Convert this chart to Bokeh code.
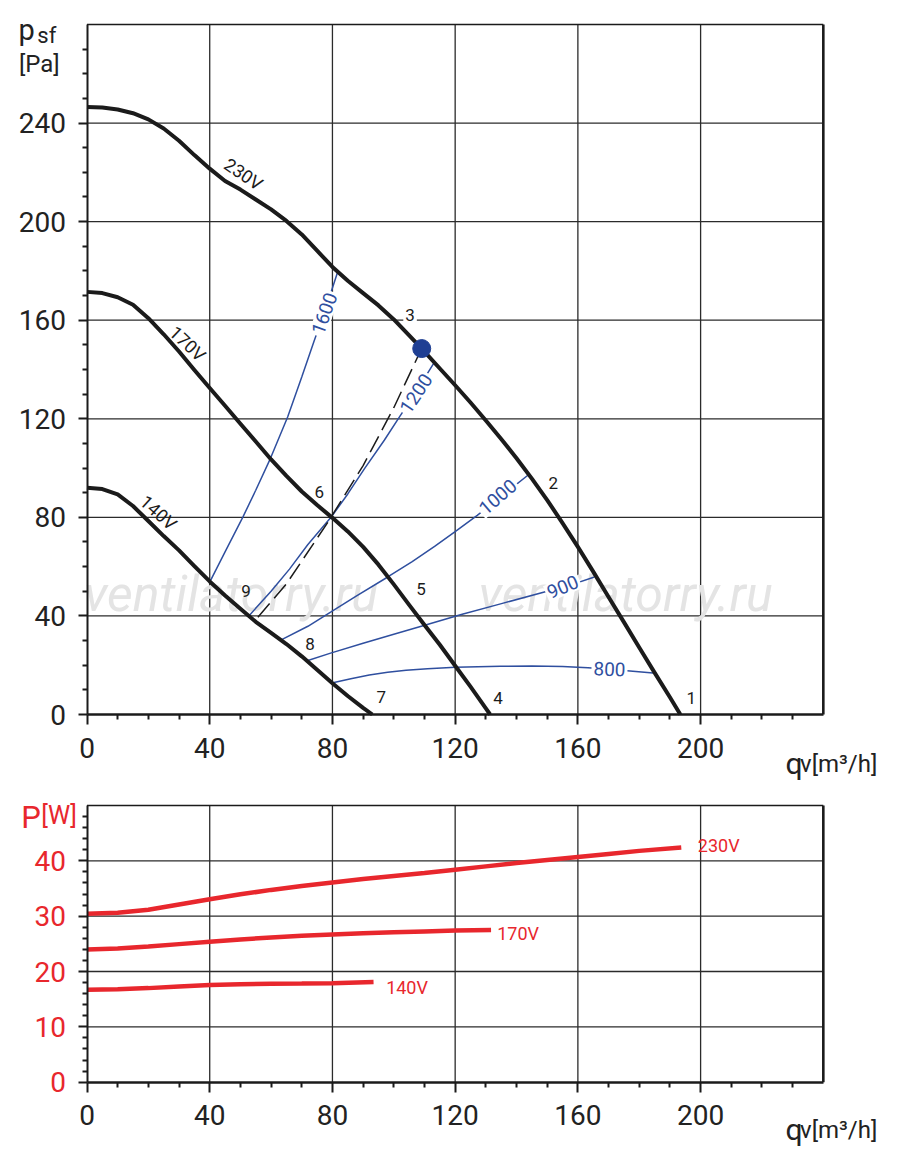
from bokeh.plotting import figure
from bokeh.models import Range1d, FixedTicker
from bokeh.layouts import column
from bokeh.embed import file_html
from bokeh.resources import INLINE
from bokeh.core.properties import value
import math

# ---------------- data ----------------
# fan curves p_sf [Pa] vs q_v [m3/h]
q_230 = [0, 5, 10, 15, 20, 25, 30, 35, 40, 45, 50, 55, 60, 65, 70, 75, 80, 85, 90, 95, 100, 105, 109.1,
         115, 120, 125, 130, 135, 140, 145, 150, 155, 160, 165, 170, 175, 180, 185, 190, 193.4]
p_230 = [246.5, 246.3, 245.5, 244, 241.5, 237.8, 232.8, 227, 221.5, 216.5, 213, 209, 205, 200.3, 194.8, 188.2, 181.6,
         176, 171, 166, 160.3, 153.8, 148.5, 140.4, 133.6, 126.6, 119.3, 111.8, 104, 95.7, 87, 77.7, 68, 58, 47.7,
         37.5, 27.2, 17, 7, 0]
q_170 = [0, 5, 10, 15, 20, 25, 30, 35, 40, 45, 50, 55, 60, 65, 70, 75, 80, 85, 90, 95, 100, 105, 110, 115, 120,
         125, 130, 131.4]
p_170 = [171.5, 171, 169.3, 166.3, 160.8, 154.3, 147.3, 139.8, 132.5, 125.3, 118, 110.8, 103.5, 96.8, 90.5, 85, 79.8,
         74.3, 68, 60.8, 52.8, 44.5, 36.3, 28.3, 19.8, 11.3, 2.5, 0]
q_140 = [0, 5, 10, 15, 20, 25, 30, 35, 40, 45, 50, 55, 60, 65, 70, 75, 80, 85, 90, 93]
p_140 = [92, 91.5, 89.3, 84.6, 78.5, 72.4, 66.6, 60.2, 54, 48.3, 42.9, 37.6, 33.1, 28.6, 23.6, 18.2, 12.7, 7.5, 2.7, 0]

# constant-speed lines (rpm)
q_1600 = [40, 45, 50.8, 55, 59.5, 65.4, 70, 74, 78, 81.7]
p_1600 = [53.7, 66, 80.1, 91, 103.1, 120.7, 137, 151.5, 165.5, 179.6]
q_1200 = [52.9, 60, 66, 72, 79.6, 85, 90.4, 96.9, 101.8, 107.3, 113.3]
p_1200 = [40.2, 50, 59, 69, 80.1, 89.5, 99.7, 111.3, 120.7, 131, 143.1]
q_1000 = [63.3, 72, 79.4, 88, 97.9, 106, 113.3, 120, 127.2, 134, 143.7]
p_1000 = [30.3, 35.8, 41.5, 48.2, 55.7, 62, 68.2, 74.2, 80.8, 87.5, 97.1]
q_900 = [72, 79.4, 90, 100, 109.8, 122, 134.8, 149.1, 158, 165.4]
p_900 = [21.9, 24.9, 28.9, 32.6, 36.1, 40.6, 44.9, 49.7, 52.7, 55.8]
q_800 = [79.4, 86, 92, 98, 104, 111, 120.1, 134.8, 145, 155, 163.3, 170, 177, 184.5]
p_800 = [12.7, 14.5, 16, 17.1, 18, 18.6, 19.2, 19.6, 19.7, 19.5, 19.0, 18.4, 17.7, 16.8]

# system curve (dashed) and operating point
q_sys = [55.7, 65, 78.5, 90, 100, 108.5]
p_sys = [39.5, 53, 78, 101, 124.5, 147]
q_op = [109.1]
p_op = [148.5]

# point numbers
pt_labels = ["1", "2", "3", "4", "5", "6", "7", "8", "9"]
pt_q = [197, 152, 105.3, 134, 108.9, 75.7, 95.9, 72.7, 51.8]
pt_p = [6.5, 93.8, 162, 6.5, 50.8, 90.2, 6.9, 28.8, 50]

# curve labels
volt_labels = ["230V", "170V", "140V"]
volt_q = [51.0, 32.8, 23.3]
volt_p = [219.3, 150.5, 81.9]
volt_ang = [-34, -43.5, -42]

rpm_labels = ["1600", "1200", "1000", "900", "800"]
rpm_q = [77.4, 107.3, 133.9, 155.1, 170.3]
rpm_p = [162.7, 130.2, 88.2, 51.7, 18.3]
rpm_ang = [70.3, 56.3, 40.8, 22.8, -2]

# power curves P [W] vs q_v
qP_230 = [0, 10, 20, 30, 40, 50, 60, 70, 80, 90, 100, 110, 120, 130, 140, 150, 160, 170, 180, 193.7]
P_230 = [30.45, 30.6, 31.15, 32.1, 33.05, 33.95, 34.75, 35.45, 36.1, 36.7, 37.25, 37.8, 38.4, 39.0, 39.6, 40.15,
         40.7, 41.25, 41.8, 42.4]
qP_170 = [0, 10, 20, 30, 40, 50, 60, 70, 80, 90, 100, 110, 120, 131.7]
P_170 = [24.0, 24.15, 24.5, 24.95, 25.4, 25.8, 26.15, 26.45, 26.7, 26.9, 27.1, 27.25, 27.4, 27.5]
qP_140 = [0, 10, 20, 30, 40, 50, 60, 70, 80, 93.4]
P_140 = [16.7, 16.8, 17.0, 17.3, 17.55, 17.7, 17.78, 17.82, 17.87, 18.1]
pw_labels = ["230V", "170V", "140V"]
pw_q = [199.1, 133.7, 97.5]
pw_P = [42.8, 26.9, 17.2]

# axes
Q_MAX = 240
P1_MAX = 280
P2_MAX = 50
x_ticks = [0, 40, 80, 120, 160, 200]
x_minor = [10, 20, 30, 50, 60, 70, 90, 100, 110, 130, 140, 150, 170, 180, 190, 210, 220, 230]
x_grid = [40, 80, 120, 160, 200]
y1_ticks = [0, 40, 80, 120, 160, 200, 240]
y1_minor = [v for v in range(10, 280, 10) if v % 40 != 0]
y1_grid = [40, 80, 120, 160, 200, 240]
y2_ticks = [0, 10, 20, 30, 40]
y2_minor = [v for v in range(2, 50, 2) if v % 10 != 0]
y2_grid = [10, 20, 30, 40]

# ---------------- layout constants (pixels) ----------------
W = 892
H1, H2 = 780, 370
X0, XS = 86.5, 3.068          # px of q=0, px per m3/h
Y0_1, YS_1 = 714.0, 2.4643    # top chart: px of p=0 (from canvas top), px per Pa
Y0_2, YS_2 = 301.7, 5.534     # bottom chart: px of P=0, px per W

FONT = "Roboto"
BLACK = "#1b1b1b"
BLUE = "#2f4f9f"
RED = "#e8272d"
GRID = "#2b2b2b"
AXTXT = "#222222"


def make_fig(h, y0, ys):
    p = figure(width=W, height=h,
               x_range=Range1d(-X0 / XS, (W - X0) / XS),
               y_range=Range1d(-(h - y0) / ys, y0 / ys),
               min_border=0, min_border_left=0, min_border_right=0, min_border_top=0, min_border_bottom=0,
               output_backend="svg", toolbar_location=None)
    p.background_fill_color = "white"
    p.border_fill_color = "white"
    p.outline_line_color = None
    p.grid.visible = False
    return p


def style_axes(p, yt, ym, ymax, ycolor):
    p.xaxis.fixed_location = 0
    p.yaxis.fixed_location = 0
    p.xaxis.bounds = (0, Q_MAX)
    p.yaxis.bounds = (0, ymax)
    p.xaxis.ticker = FixedTicker(ticks=x_ticks, minor_ticks=x_minor)
    p.yaxis.ticker = FixedTicker(ticks=yt, minor_ticks=ym)
    for ax in (p.xaxis, p.yaxis):
        ax.axis_line_color = BLACK
        ax.major_tick_line_color = BLACK
        ax.minor_tick_line_color = BLACK
        ax.major_tick_line_width = 2
        ax.minor_tick_line_width = 2
        ax.major_tick_in = 0
        ax.minor_tick_in = 0
        ax.minor_tick_out = 5
        ax.major_label_text_font = FONT
        ax.major_label_text_font_size = "28px"
    p.xaxis.axis_line_width = 2.5
    p.yaxis.axis_line_width = 2
    p.xaxis.major_tick_out = 10
    p.yaxis.major_tick_out = 9
    p.xaxis.major_label_standoff = 13
    p.yaxis.major_label_standoff = 12
    p.xaxis.major_label_text_color = AXTXT
    p.yaxis.major_label_text_color = ycolor


def grid_and_box(p, ygrid, ymax):
    n = len(x_grid)
    p.segment(x0=x_grid, y0=[0] * n, x1=x_grid, y1=[ymax] * n,
              line_color=GRID, line_width=1.3, level="underlay")
    m = len(ygrid)
    p.segment(x0=[0] * m, y0=ygrid, x1=[Q_MAX] * m, y1=ygrid,
              line_color=GRID, line_width=1.3, level="underlay")
    # top and right edges of the chart box
    p.segment(x0=[0], y0=[ymax], x1=[Q_MAX], y1=[ymax], line_color=BLACK, line_width=1.6)
    p.segment(x0=[Q_MAX], y0=[0], x1=[Q_MAX], y1=[ymax], line_color=BLACK, line_width=2.6)


def txt(p, xs, ys, ts, size, color, angles=None, bg=None, align="center", baseline="middle", style_="normal"):
    kw = {}
    if bg is not None:
        kw = dict(background_fill_color=bg, padding=2)
    if angles is None:
        angles = [0] * len(xs)
    p.text(x=xs, y=ys, text=ts, angle=[math.radians(a) for a in angles],
           text_font=value(FONT), text_font_size=f"{size}px", text_color=color,
           text_align=align, text_baseline=baseline, text_font_style=style_, **kw)


# ---------------- top chart ----------------
p1 = make_fig(H1, Y0_1, YS_1)
style_axes(p1, y1_ticks, y1_minor, P1_MAX, AXTXT)
grid_and_box(p1, y1_grid, P1_MAX)

# watermark
txt(p1, [-1, 127.6], [49.1, 49.1], ["ventilatorry.ru", "ventilatorry.ru"], 50, "#e4e4e4",
    align="left", baseline="alphabetic", style_="italic")

for qs, ps in ((q_1600, p_1600), (q_1200, p_1200), (q_1000, p_1000), (q_900, p_900), (q_800, p_800)):
    p1.line(qs, ps, line_color=BLUE, line_width=1.5)
p1.line(q_sys, p_sys, line_color=BLACK, line_width=1.5, line_dash="18 7")
for qs, ps in ((q_230, p_230), (q_170, p_170), (q_140, p_140)):
    p1.line(qs, ps, line_color=BLACK, line_width=4, line_join="round")
p1.scatter(q_op, p_op, size=18, fill_color="#1f3f93", line_color="#1f3f93")

txt(p1, rpm_q, rpm_p, rpm_labels, 19, BLUE, angles=rpm_ang, bg="white")
txt(p1, volt_q, volt_p, volt_labels, 18, BLACK, angles=volt_ang)
txt(p1, pt_q[2:3], pt_p[2:3], pt_labels[2:3], 17, BLACK, bg="white")
txt(p1, pt_q[:2] + pt_q[3:], pt_p[:2] + pt_p[3:], pt_labels[:2] + pt_labels[3:], 17, BLACK)

# axis titles
txt(p1, [-22.3], [277.8], ["p"], 29, AXTXT, align="left", baseline="alphabetic")
txt(p1, [-16.2], [275.5], ["sf"], 22, AXTXT, align="left", baseline="alphabetic")
txt(p1, [-22.2], [263.8], ["[Pa]"], 24, AXTXT, align="left", baseline="alphabetic")
txt(p1, [227.7], [-19.9], ["q"], 30, AXTXT, align="left", baseline="alphabetic")
txt(p1, [232.4], [-19.9], ["v[m³/h]"], 24, AXTXT, align="left", baseline="alphabetic")

# ---------------- bottom chart ----------------
p2 = make_fig(H2, Y0_2, YS_2)
style_axes(p2, y2_ticks, y2_minor, P2_MAX, RED)
grid_and_box(p2, y2_grid, P2_MAX)

for qs, ps in ((qP_230, P_230), (qP_170, P_170), (qP_140, P_140)):
    p2.line(qs, ps, line_color=RED, line_width=4.5)
txt(p2, pw_q, pw_P, pw_labels, 18, RED, align="left")

txt(p2, [-21.4], [47.9], ["P"], 31, RED, align="left", baseline="alphabetic")
txt(p2, [-14.9], [48.2], ["[W]"], 25, RED, align="left", baseline="alphabetic")
txt(p2, [227.7], [-8.55], ["q"], 30, AXTXT, align="left", baseline="alphabetic")
txt(p2, [232.4], [-8.7], ["v[m³/h]"], 24, AXTXT, align="left", baseline="alphabetic")

layout = column(p1, p2)
open("out.html", "w").write(file_html(layout, INLINE))
